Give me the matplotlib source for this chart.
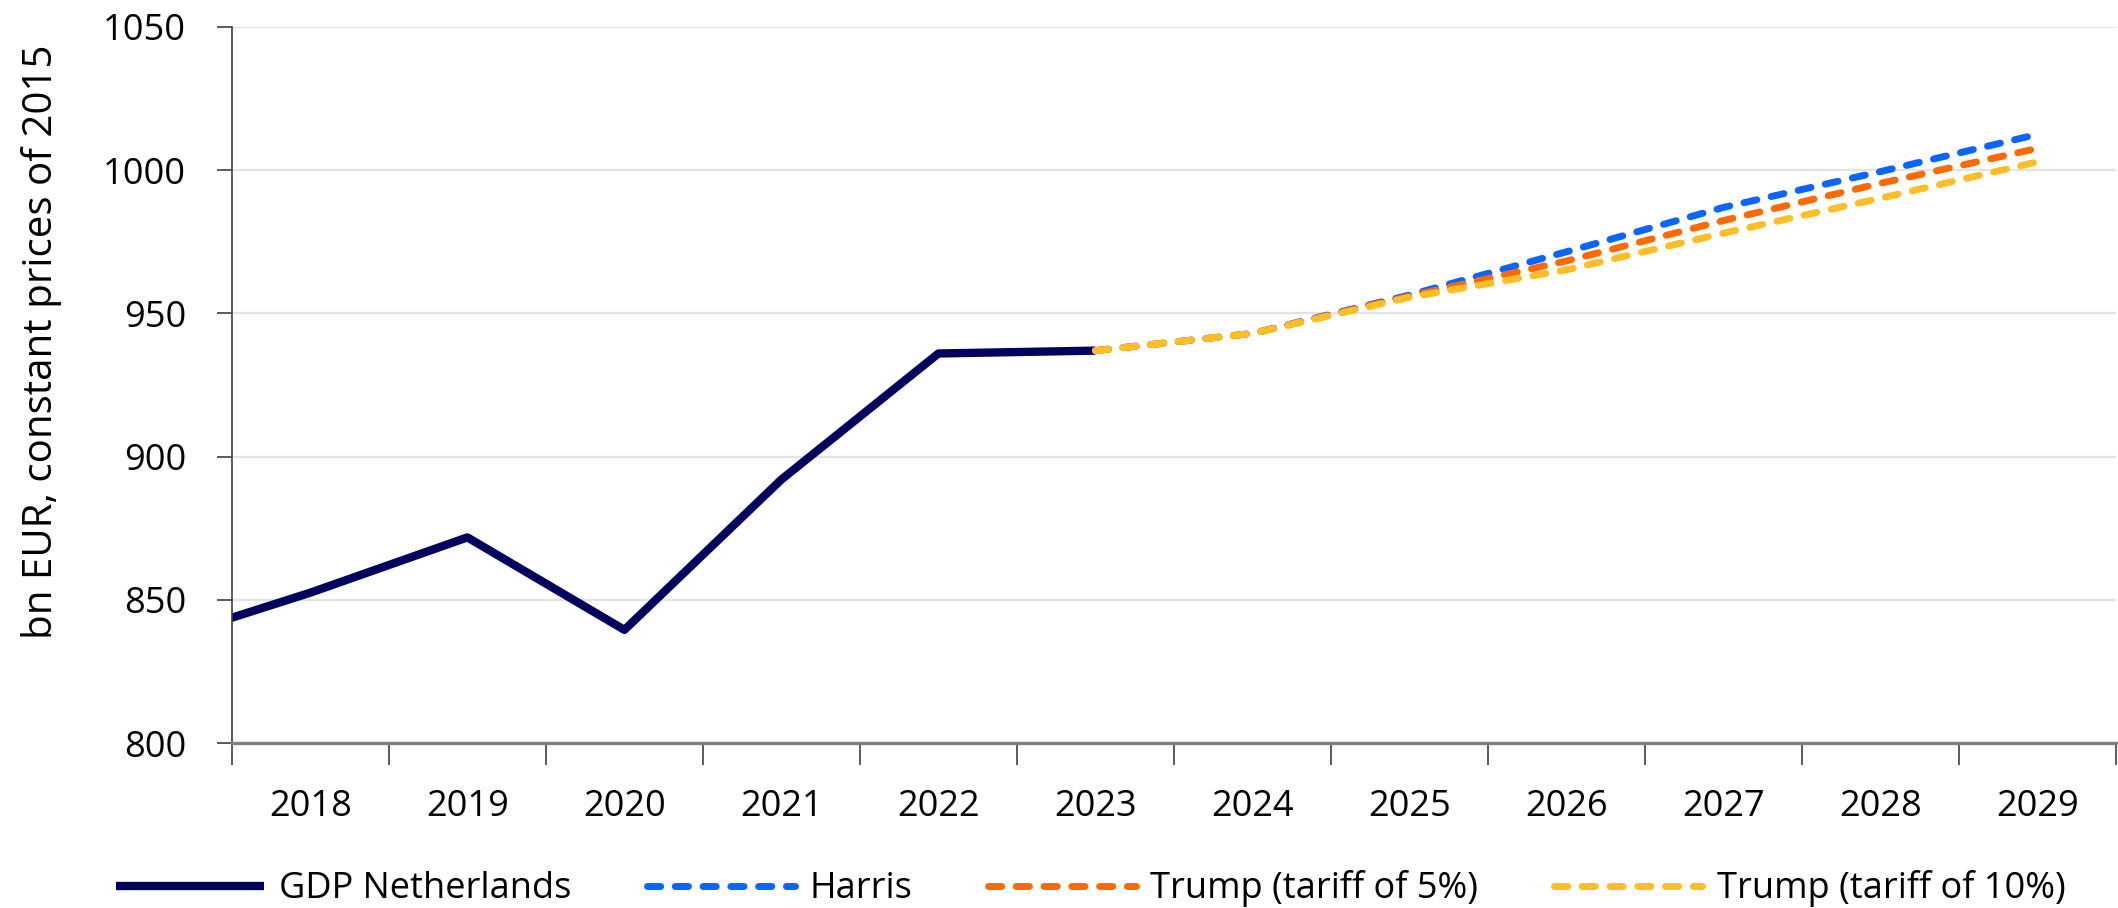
import numpy as np
import matplotlib
matplotlib.use('Agg')
import matplotlib.pyplot as plt

plt.rcParams['font.family'] = ['Open Sans', 'DejaVu Sans']

# GDP history (2017 sits just left of the visible range)
gdp_years = [2017, 2018, 2019, 2020, 2021, 2022, 2023]
gdp_values = [835.0, 852.5, 871.8, 839.5, 892.0, 936.0, 937.0]

# forecast scenarios from 2023 onwards
fc_years = [2023, 2024, 2025, 2026, 2027, 2028, 2029]
harris = [937.0, 943.0, 956.4, 971.5, 987.0, 999.5, 1012.5]
trump_5 = [937.0, 943.0, 956.0, 968.3, 982.4, 995.4, 1007.6]
trump_10 = [937.0, 943.0, 955.6, 965.2, 978.0, 990.2, 1002.9]

year_labels = [str(y) for y in range(2018, 2030)]

fig = plt.figure(figsize=(21.18, 9.08), dpi=100)
ax = fig.add_axes([0.1095, 0.1817, 0.8895, 0.7886])

dash = dict(lw=5.0, linestyle=(0, (1.9, 2.1)), dash_capstyle='round')
ax.plot(fc_years, harris, color='#0a64ff', label='Harris', **dash)
ax.plot(fc_years, trump_5, color='#ff6a00', label='Trump (tariff of 5%)', **dash)
ax.plot(fc_years, trump_10, color='#ffbe25', label='Trump (tariff of 10%)', **dash)
ax.plot(gdp_years, gdp_values, color='#02025e', lw=6.0, solid_capstyle='butt',
        label='GDP Netherlands', zorder=1.5)

ax.set_xlim(2017.5, 2029.5)
ax.set_ylim(800, 1050)
ax.set_yticks([800, 850, 900, 950, 1000, 1050])

# category axis: tick marks between years, labels centred on years
ax.set_xticks(np.arange(2017.5, 2030, 1.0))
ax.set_xticklabels([])
ax.set_xticks(np.arange(2018, 2030), minor=True)
ax.set_xticklabels(year_labels, minor=True)
ax.tick_params(axis='x', which='major', length=16, width=1.2, color='#404040', direction='out')
ax.tick_params(axis='x', which='minor', length=0, pad=33, labelsize=26)
ax.tick_params(axis='y', length=11, width=1.2, color='#404040', pad=22, labelsize=26)

ax.grid(axis='y', color='#e3e3e3', lw=1.6)
ax.set_axisbelow(True)
for s in ['top', 'right']:
    ax.spines[s].set_visible(False)
ax.spines['left'].set_color('#404040')
ax.spines['left'].set_linewidth(1.2)
ax.spines['bottom'].set_color('#808080')
ax.spines['bottom'].set_linewidth(2.4)

ax.set_ylabel('bn EUR, constant prices of 2015', fontsize=29)
ax.yaxis.set_label_coords(-0.090, 0.56)

handles, labels = ax.get_legend_handles_labels()
order = [3, 0, 1, 2]
ax.legend([handles[i] for i in order], [labels[i] for i in order],
          loc='center', bbox_to_anchor=(0.515, 0.021), bbox_transform=fig.transFigure,
          ncol=4, frameon=False, fontsize=26, handlelength=4.1, handletextpad=0.4,
          columnspacing=2.1, borderaxespad=0)

fig.savefig('out.png', dpi=100)
